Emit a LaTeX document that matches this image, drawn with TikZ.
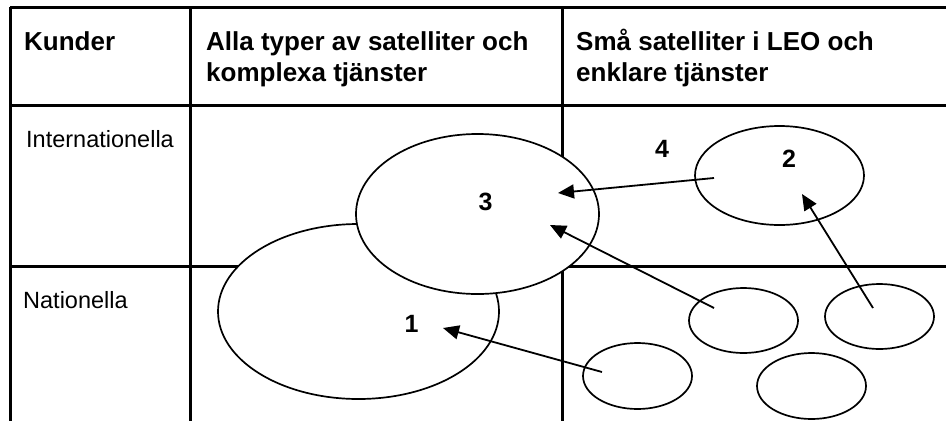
\documentclass[tikz,border=0pt]{standalone}
\usepackage{fontspec}
\setmainfont{Liberation Sans}
\usetikzlibrary{shapes.geometric,arrows.meta}
\begin{document}
\begin{tikzpicture}[x=1pt,y=-1pt,
  gridline/.style={line width=3pt},
  blob/.style={ellipse,draw,fill=white,line width=1.7pt,inner sep=0pt},
  link/.style={line width=1.8pt,-{Triangle[length=16pt,width=14pt]}},
  head/.style={font=\fontsize{26}{31}\selectfont\bfseries,inner sep=0pt,anchor=base west},
  rowlabel/.style={font=\fontsize{23.5}{28}\selectfont,inner sep=0pt,anchor=base west},
  num/.style={font=\fontsize{25}{30}\selectfont\bfseries,inner sep=0pt}]
\useasboundingbox (0,0) rectangle (946,421);
% table lines
\draw[gridline] (10,7) -- (946,7);
\draw[gridline] (10,105) -- (946,105);
\draw[gridline] (10,266) -- (946,266);
\draw[gridline] (10,7) -- (10,421);
\draw[gridline] (190,7) -- (190,421);
\draw[gridline] (562,7) -- (562,421);
% header texts
\node[head] (h1) at (24,50) {Kunder};
\node[head] (h2a) at (206,50) {Alla typer av satelliter och};
\node[head] (h2b) at (206,81) {komplexa tjänster};
\node[head] (h3a) at (576,50) {Små satelliter i LEO och};
\node[head] (h3b) at (576,81) {enklare tjänster};
\node[rowlabel] (r1) at (26,147) {Internationella};
\node[rowlabel] (r2) at (23,308) {Nationella};
% ellipses
\node[blob,minimum width=281,minimum height=175] (e1) at (358.5,311.5) {};
\node[blob,minimum width=243,minimum height=160] (e3) at (477.5,214) {};
\node[blob,minimum width=169,minimum height=99] (e2) at (779.5,175.5) {};
\node[blob,minimum width=109,minimum height=65] (sa) at (743.5,320.5) {};
\node[blob,minimum width=109,minimum height=65] (sb) at (879.5,316.5) {};
\node[blob,minimum width=109,minimum height=66] (sc) at (637.5,376) {};
\node[blob,minimum width=109,minimum height=66] (sd) at (811.5,386) {};
% arrow end points
\coordinate (t2) at (714,178);
\coordinate (h32) at (558,193);
\coordinate (ta) at (714,308);
\coordinate (h3a) at (550,225);
\coordinate (tb) at (873,308);
\coordinate (h2) at (802,194);
\coordinate (tc) at (602,372);
\coordinate (h1) at (443,328);
\draw[link] (t2) -- (h32);
\draw[link] (ta) -- (h3a);
\draw[link] (tb) -- (h2);
\draw[link] (tc) -- (h1);
% numbers
\node[num] (n1) at (411.5,324) {1};
\node[num] (n2) at (789,159) {2};
\node[num] (n3) at (485.5,202) {3};
\node[num] (n4) at (662,149) {4};
\end{tikzpicture}
\end{document}
